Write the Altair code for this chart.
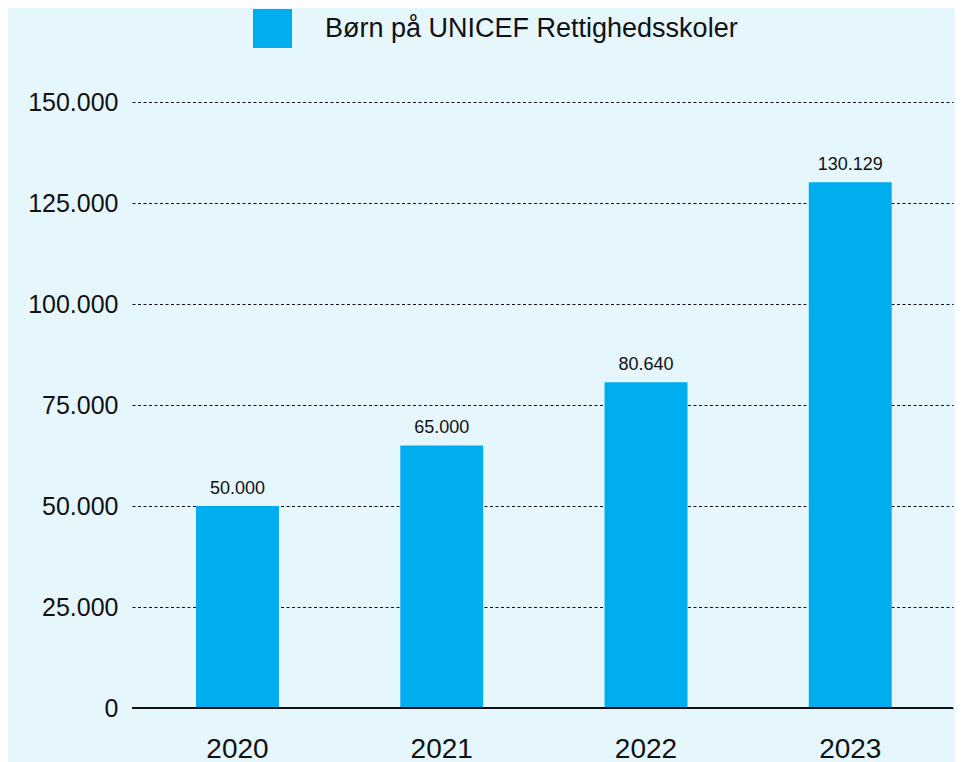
import altair as alt
import pandas as pd

years = ["2020", "2021", "2022", "2023"]
values = [50000, 65000, 80640, 130129]
series_name = "Børn på UNICEF Rettighedsskoler"
y_ticks = [0, 25000, 50000, 75000, 100000, 125000, 150000]

df = pd.DataFrame({"year": years, "value": values, "series": [series_name] * len(years)})

FONT = "Liberation Sans"
BAR = "#00aeef"
BG = "#e6f6fd"
INK = "#111111"

x_enc = alt.X("year:N", sort=years, title=None,
              scale=alt.Scale(paddingInner=0.594, paddingOuter=0.3066, align=0.511),
              axis=alt.Axis(labelAngle=0, labelFontSize=28, labelColor=INK,
                            labelFont=FONT, ticks=False, domain=False, labelPadding=27))

y_enc = alt.Y("value:Q", title=None,
              scale=alt.Scale(domain=[0, 150000], nice=False),
              axis=alt.Axis(values=y_ticks, labelFontSize=25, labelFont=FONT,
                            labelColor=INK, labelPadding=14, ticks=False,
                            domain=False, grid=True, gridColor=INK,
                            gridDash=[3, 2.5], gridWidth=1.2, gridOpacity=1,
                            labelExpr="replace(format(datum.value, ','), ',', '.')"))

bars = alt.Chart(df).mark_bar().encode(
    x=x_enc,
    y=y_enc,
    color=alt.Color("series:N", scale=alt.Scale(range=[BAR]), title=None,
                    legend=alt.Legend(orient="none", legendX=121, legendY=-93,
                                      symbolType="square", symbolSize=1521,
                                      symbolStrokeWidth=0, symbolOpacity=1,
                                      labelFontSize=27, labelFont=FONT,
                                      labelColor=INK, labelOffset=33,
                                      labelLimit=700)),
)

labels = alt.Chart(df).transform_calculate(
    lab="replace(format(datum.value, ','), ',', '.')"
).mark_text(dy=-12, baseline="alphabetic", fontSize=18, font=FONT, color=INK).encode(
    x=alt.X("year:N", sort=years),
    y="value:Q",
    text="lab:N",
)

base_line = alt.Chart(pd.DataFrame({"v": [0]})).mark_rule(color=INK, strokeWidth=2).encode(
    y="v:Q"
)

chart = alt.layer(bars, labels, base_line).properties(
    width=821, height=606,
    background=BG,
    padding={"left": 124, "top": 94, "right": 2, "bottom": 54},
    autosize=alt.AutoSizeParams(type="none"),
).configure_view(stroke=None)

chart.save("out.html", embed_options={"renderer": "svg", "actions": False})
